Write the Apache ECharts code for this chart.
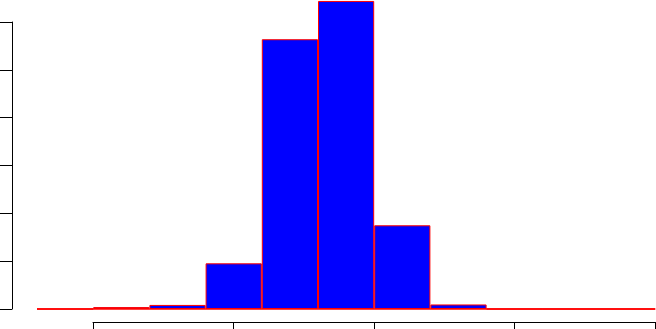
<!DOCTYPE html>
<html>
<head>
<meta charset="utf-8">
<script src="https://cdn.jsdelivr.net/npm/echarts@6/dist/echarts.min.js"></script>
<style>html,body{margin:0;padding:0;background:#fff;}#c{width:656px;height:329px;}</style>
</head>
<body>
<div id="c"></div>
<script>
// Histogram bins (lower edges) and bar heights
var binEdges = [-2.4, -2.0, -1.6, -1.2, -0.8, -0.4, 0.0, 0.4, 0.8, 1.2, 1.6, 2.0];
var binHeights = [0, 0.04, 0.085, 0.955, 5.64, 6.44, 1.75, 0.095, 0, 0, 0];
var yTicks = [0, 1, 2, 3, 4, 5, 6];
var xTicks = [-2, -1, 0, 1, 2];

var categories = [];
for (var i = 0; i < binHeights.length; i++) {
  categories.push(binEdges[i].toFixed(1) + '–' + binEdges[i + 1].toFixed(1));
}

var chart = echarts.init(document.getElementById('c'), null, {renderer: 'canvas'});
chart.setOption({
  animation: false,
  backgroundColor: '#ffffff',
  grid: [
    {left: 37, right: 0.8, top: 22, bottom: 20},
    {left: 93, right: 1, top: 22, bottom: 20}
  ],
  xAxis: [
    {type: 'category', gridIndex: 0, data: categories, boundaryGap: true,
     axisLine: {show: false}, axisTick: {show: false}, axisLabel: {show: false}, splitLine: {show: false}},
    {type: 'value', gridIndex: 1, min: xTicks[0], max: xTicks[xTicks.length - 1], interval: 1,
     position: 'bottom', offset: 13,
     axisLine: {show: true, onZero: false, lineStyle: {color: '#000', width: 1}},
     axisTick: {show: true, inside: false, length: 8, lineStyle: {color: '#000', width: 1}},
     axisLabel: {show: false}, splitLine: {show: false}}
  ],
  yAxis: [
    {type: 'value', gridIndex: 0, min: yTicks[0], max: yTicks[yTicks.length - 1], interval: 1,
     position: 'left', offset: 25,
     axisLine: {show: true, onZero: false, lineStyle: {color: '#000', width: 1}},
     axisTick: {show: true, inside: false, length: 13, lineStyle: {color: '#000', width: 1}},
     axisLabel: {show: false}, splitLine: {show: false}},
    {type: 'value', gridIndex: 1, min: 0, max: 6, show: false}
  ],
  series: [{
    type: 'bar',
    xAxisIndex: 0, yAxisIndex: 0,
    data: binHeights,
    barCategoryGap: '0%',
    clip: false,
    itemStyle: {color: '#0000ff', borderColor: '#ff0000', borderWidth: 1},
    emphasis: {disabled: true},
    markLine: {
      silent: true, symbol: 'none', label: {show: false},
      lineStyle: {color: '#ff0000', width: 1.5, type: 'solid'},
      data: [{yAxis: 0}]
    }
  }]
});
</script>
</body>
</html>
